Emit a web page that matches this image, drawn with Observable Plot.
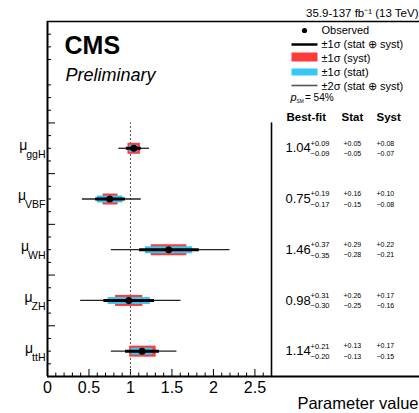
<!DOCTYPE html>
<html><head><meta charset="utf-8">
<script src="https://cdn.jsdelivr.net/npm/d3@7"></script>
<script src="https://cdn.jsdelivr.net/npm/@observablehq/plot@0.6"></script>
<style>body{margin:0;background:#fff}</style>
</head><body><div id="chart"></div>
<script>
const processes = ["ggH", "VBF", "WH", "ZH", "ttH"];
const bestFit = [1.04, 0.75, 1.46, 0.98, 1.14];
const totUp  = [0.09, 0.19, 0.37, 0.31, 0.21];
const totDn  = [0.09, 0.17, 0.35, 0.30, 0.20];
const statUp = [0.05, 0.16, 0.29, 0.26, 0.13];
const statDn = [0.05, 0.15, 0.28, 0.25, 0.13];
const systUp = [0.08, 0.10, 0.22, 0.17, 0.17];
const systDn = [0.07, 0.08, 0.21, 0.16, 0.15];
const twoSigLo = [0.86, 0.42, 0.77, 0.40, 0.77];
const twoSigHi = [1.23, 1.13, 2.20, 1.61, 1.56];
const xTicks = [0, 0.5, 1, 1.5, 2, 2.5];
const legendLabels = ["Observed", "±1σ (stat ⊕ syst)", "±1σ (syst)", "±1σ (stat)", "±2σ (stat ⊕ syst)"];
const tableHeaders = ["Best-fit", "Stat", "Syst"];
const pSM = "54%";
const lumiLabel = "35.9-137 fb⁻¹ (13 TeV)";
const xLabel = "Parameter value";

const RED = "#ff3a3a", CYAN = "#36c8f7";
const n = processes.length;
const rows = processes.map((p, i) => ({
  name: p, pos: n - i - 0.5, v: bestFit[i],
  tu: totUp[i], td: totDn[i], su: statUp[i], sd: statDn[i], yu: systUp[i], yd: systDn[i],
  lo: twoSigLo[i], hi: twoSigHi[i]
}));
const up = v => "+" + v.toFixed(2);
const dn = v => "\u2212" + v.toFixed(2);

const minorX = d3.range(0, 28).map(k => k / 10).filter(v => Math.abs(v * 2 - Math.round(v * 2)) > 1e-6);
const majorY = [1, 2, 3, 4, 5];
const minorY = d3.range(1, 28).map(k => k / 4).filter(v => v % 1 !== 0);

const hline = w => ({draw(c) { c.moveTo(-w / 2, 0); c.lineTo(w / 2, 0); }});
const box = (w, h) => ({draw(c) { c.rect(-w / 2, -h / 2, w, h); }});
const FR = 148; // right margin width (table area)

const legendSwatches = [
  {symbol: "circle", r: 2.6, fill: "black", stroke: "none", dy: 9},
  {symbol: hline(26), fill: "none", stroke: "black", strokeWidth: 2.5, dy: 23},
  {symbol: box(26, 9), fill: RED, stroke: "none", dy: 35.5},
  {symbol: box(26, 7), fill: CYAN, stroke: "none", dy: 50.5},
  {symbol: hline(26), fill: "none", stroke: "#555", strokeWidth: 1.6, dy: 64}
];

const topText = (s, o) => Plot.text([s], {frameAnchor: "top-right", text: d => d, textAnchor: "start", lineAnchor: "middle", ...o});

const marks = [
  // frame
  Plot.ruleY([7], {stroke: "black", strokeWidth: 1.6, insetRight: -FR}),
  Plot.ruleY([0], {stroke: "black", strokeWidth: 2, insetRight: -FR}),
  Plot.ruleX([0], {stroke: "black", strokeWidth: 2}),
  Plot.ruleX([2.7], {y1: 0, y2: 5, stroke: "black", strokeWidth: 1.6}),
  // axes
  Plot.axisX({ticks: xTicks, tickSize: -7, tickFormat: () => "", label: null}),
  Plot.axisX({ticks: minorX, tickSize: -3.5, tickFormat: () => "", label: null}),
  Plot.axisX({ticks: xTicks, tickSize: 0, tickPadding: 5, tickFormat: d3.format("~g"), fontSize: 16, label: null}),
  Plot.axisY({ticks: majorY, tickSize: -8, tickFormat: () => "", label: null}),
  Plot.axisY({ticks: minorY, tickSize: -4, tickFormat: () => "", label: null}),
  // SM reference
  Plot.ruleX([1], {y1: 0, y2: 5, stroke: "#555", strokeWidth: 1, strokeDasharray: "2,2"}),
  // data
  Plot.ruleY(rows, {y: "pos", x1: "lo", x2: "hi", stroke: "#222", strokeWidth: 1.3}),
  Plot.ruleY(rows, {y: "pos", x1: d => d.v - d.yd, x2: d => d.v + d.yu, stroke: RED, strokeWidth: 11}),
  Plot.ruleY(rows, {y: "pos", x1: d => d.v - d.sd, x2: d => d.v + d.su, stroke: CYAN, strokeWidth: 7}),
  Plot.ruleY(rows, {y: "pos", x1: d => d.v - d.td, x2: d => d.v + d.tu, stroke: "black", strokeWidth: 3}),
  Plot.dot(rows, {x: "v", y: "pos", r: 3.5, fill: "black"}),
  // row labels (turned into mu + subscript below)
  Plot.text(rows, {y: "pos", frameAnchor: "left", dx: -2, textAnchor: "end", text: "name", fontSize: 10.5}),
  // table
  ...tableHeaders.map((h, i) => topText(h, {dx: [15, 70, 105][i], dy: 96, fontWeight: "bold", fontSize: 11.5})),
  Plot.text(rows, {y: "pos", frameAnchor: "right", dx: 14, text: d => d.v.toFixed(2), textAnchor: "start", fontSize: 13}),
  Plot.text(rows, {y: "pos", frameAnchor: "right", dx: 39, dy: -5, text: d => up(d.tu), textAnchor: "start", fontSize: 7.5}),
  Plot.text(rows, {y: "pos", frameAnchor: "right", dx: 39, dy: 5.5, text: d => dn(d.td), textAnchor: "start", fontSize: 7.5}),
  Plot.text(rows, {y: "pos", frameAnchor: "right", dx: 72, dy: -5, text: d => up(d.su), textAnchor: "start", fontSize: 7}),
  Plot.text(rows, {y: "pos", frameAnchor: "right", dx: 72, dy: 5.5, text: d => dn(d.sd), textAnchor: "start", fontSize: 7}),
  Plot.text(rows, {y: "pos", frameAnchor: "right", dx: 105, dy: -5, text: d => up(d.yu), textAnchor: "start", fontSize: 7}),
  Plot.text(rows, {y: "pos", frameAnchor: "right", dx: 105, dy: 5.5, text: d => dn(d.yd), textAnchor: "start", fontSize: 7}),
  // legend
  ...legendSwatches.map(s => Plot.dot([0], {frameAnchor: "top-right", dx: 33, dy: s.dy, symbol: s.symbol, r: s.r ?? 5, fill: s.fill, stroke: s.stroke, strokeWidth: s.strokeWidth ?? 1})),
  ...legendLabels.map((t, i) => topText(t, {dx: 50, dy: 9 + 14 * i, fontSize: 11})),
  topText("p", {dx: 19, dy: 76, fontSize: 11, fontStyle: "italic"}),
  topText("SM", {dx: 25, dy: 79.5, fontSize: 4.8}),
  topText("= " + pSM, {dx: 33.5, dy: 76, fontSize: 10}),
  // titles
  Plot.text(["CMS"], {frameAnchor: "top-left", dx: 17, dy: 32, text: d => d, textAnchor: "start", lineAnchor: "bottom", fontWeight: "bold", fontSize: 25}),
  Plot.text(["Preliminary"], {frameAnchor: "top-left", dx: 18, dy: 59, text: d => d, textAnchor: "start", lineAnchor: "bottom", fontStyle: "italic", fontSize: 18}),
  topText(lumiLabel, {dx: FR - 1, dy: -8, textAnchor: "end", fontSize: 11.5}),
  Plot.text([xLabel], {frameAnchor: "bottom-right", dx: FR - 1, dy: 32, text: d => d, textAnchor: "end", lineAnchor: "bottom", fontSize: 16.5})
];

const chart = Plot.plot({
  width: 419, height: 413,
  marginLeft: 47, marginRight: FR, marginTop: 21, marginBottom: 37,
  style: {fontFamily: "'Liberation Sans', Arial, Helvetica, sans-serif", background: "#fff", color: "black", overflow: "visible"},
  x: {domain: [0, 2.7]},
  y: {domain: [0, 7]},
  marks
});
document.getElementById("chart").appendChild(chart);

// row labels: mu with subscript process name
d3.select(chart).selectAll("text").filter(function () {
  return processes.includes(this.textContent) && this.getAttribute("text-anchor") !== "start";
}).each(function () {
  const name = this.textContent;
  const t = d3.select(this);
  t.text("").attr("dy", null);
  t.append("tspan").attr("font-size", 14).attr("dy", -2).text("μ");
  t.append("tspan").attr("font-size", 10.5).attr("dx", -1).attr("dy", 8).text(name);
});
</script>
</body></html>
